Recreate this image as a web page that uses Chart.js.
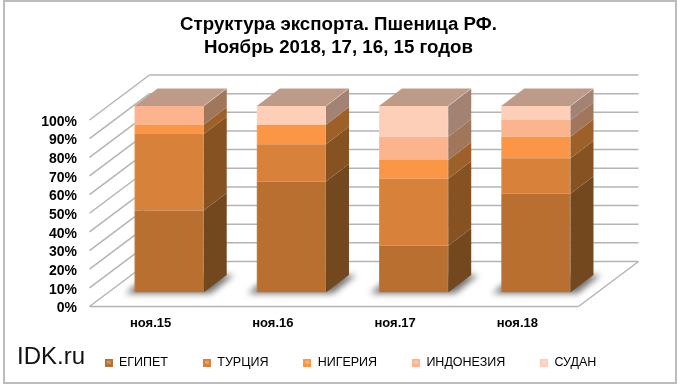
<!DOCTYPE html>
<html>
<head>
<meta charset="utf-8">
<title>Структура экспорта</title>
<style>
html, body { margin: 0; padding: 0; background: #fff; }
#frame { position: absolute; left: 3px; top: 0; width: 670px; height: 380px; border: 2px solid #bdbdbd; }
canvas { position: absolute; left: 0; top: 0; }
</style>
<script src="https://cdn.jsdelivr.net/npm/chart.js@4/dist/chart.umd.min.js"></script>
</head>
<body>
<canvas id="myChart" width="680" height="385"></canvas>
<div id="frame"></div>
<script>
const categories = ['ноя.15', 'ноя.16', 'ноя.17', 'ноя.18'];
const seriesNames = ['ЕГИПЕТ', 'ТУРЦИЯ', 'НИГЕРИЯ', 'ИНДОНЕЗИЯ', 'СУДАН'];
const egypt = [44, 59.5, 25, 53];
const turkey = [41, 20, 36, 19];
const nigeria = [5, 10.5, 10, 11.5];
const indonesia = [10, 0, 12.5, 9];
const sudan = [0, 10, 16.5, 7.5];
const seriesValues = [egypt, turkey, nigeria, indonesia, sudan];

const frontColors = ['#b86f30', '#d8813b', '#fa9645', '#fbb48d', '#fdceb8'];
const sideColors = ['#74481f', '#875222', '#9e6029', '#a1775c', '#a28373'];
const topColor = '#bd9b88';
const gridColor = '#b4b4b4';

// смещения 3D: глубина столбика и стенки диаграммы
const barDepth = { x: 23, y: -17.5 };
const floorFront = { x: -18.5, y: 14 };
const floorBack = { x: 41.5, y: -31 };

function poly(ctx, pts, fill) {
	ctx.beginPath();
	pts.forEach(function (p, i) {
		if (i === 0) ctx.moveTo(p[0], p[1]); else ctx.lineTo(p[0], p[1]);
	});
	ctx.closePath();
	ctx.fillStyle = fill;
	ctx.fill();
}

function line(ctx, x1, y1, x2, y2) {
	ctx.beginPath();
	ctx.moveTo(x1, y1);
	ctx.lineTo(x2, y2);
	ctx.stroke();
}

function legendMarker(color) {
	const c = document.createElement('canvas');
	c.width = 8;
	c.height = 8;
	const g = c.getContext('2d');
	g.fillStyle = color;
	g.fillRect(0, 0, 8, 8);
	g.fillStyle = 'rgba(255,255,255,0.28)';
	g.fillRect(2, 2, 4, 3);
	return c;
}

const walls3d = {
	id: 'walls3d',
	afterLayout: function (chart) {
		// заголовок и легенда стоят не по области столбиков
		const t = chart.titleBlock, l = chart.legend;
		t.left = 0; t.right = 677; t.width = 677;
		l.left = 21; l.right = 680; l.width = 659;
		l.top -= 9; l.bottom -= 9;
	},
	beforeDatasetsDraw: function (chart) {
		const ctx = chart.ctx, a = chart.chartArea, y = chart.scales.y;
		ctx.save();
		ctx.strokeStyle = gridColor;
		ctx.lineWidth = 1.5;
		y.ticks.forEach(function (t) {
			const py = y.getPixelForValue(t.value);
			line(ctx, a.left + floorFront.x, py + floorFront.y, a.left + floorBack.x, py + floorBack.y);
			line(ctx, a.left + floorBack.x, py + floorBack.y, a.right + floorBack.x, py + floorBack.y);
		});
		const b = y.getPixelForValue(0);
		line(ctx, a.left + floorFront.x, b + floorFront.y, a.right + floorFront.x, b + floorFront.y);
		line(ctx, a.right + floorFront.x, b + floorFront.y, a.right + floorBack.x, b + floorBack.y);
		// тени на полу
		ctx.filter = 'blur(3px)';
		chart.getDatasetMeta(0).data.forEach(function (bar) {
			const l = bar.x - bar.width / 2, r = bar.x + bar.width / 2;
			poly(ctx, [[l - 9, b + 1], [l + 14, b + barDepth.y], [r + barDepth.x + 7, b + barDepth.y], [r + 7, b + 1]], 'rgba(70,70,70,0.75)');
		});
		ctx.restore();
	},
	afterDatasetsDraw: function (chart) {
		const ctx = chart.ctx, d = barDepth;
		ctx.save();
		chart.data.datasets.forEach(function (ds, i) {
			chart.getDatasetMeta(i).data.forEach(function (bar) {
				if (Math.abs(bar.base - bar.y) < 0.01) return;
				const l = bar.x - bar.width / 2, r = bar.x + bar.width / 2;
				poly(ctx, [[r, bar.y], [r + d.x, bar.y + d.y], [r + d.x, bar.base + d.y], [r, bar.base]], sideColors[i]);
				ctx.fillStyle = 'rgba(255,255,255,0.10)';
				ctx.fillRect(l, bar.y, 1, bar.base - bar.y);
				ctx.fillRect(r - 1, bar.y, 1, bar.base - bar.y);
			});
		});
		const y = chart.scales.y, top = y.getPixelForValue(100);
		ctx.strokeStyle = 'rgba(255,255,255,0.3)';
		ctx.lineWidth = 1;
		chart.getDatasetMeta(0).data.forEach(function (bar) {
			const l = bar.x - bar.width / 2, r = bar.x + bar.width / 2;
			poly(ctx, [[l, top], [l + d.x, top + d.y], [r + d.x, top + d.y], [r, top]], topColor);
			line(ctx, r, top, r + d.x, top + d.y);
		});
		// подпись сайта
		ctx.fillStyle = '#111';
		ctx.font = '24px "Liberation Sans"';
		ctx.textBaseline = 'alphabetic';
		ctx.fillText('IDK.ru', 17, 364);
		ctx.restore();
	}
};

new Chart(document.getElementById('myChart'), {
	type: 'bar',
	data: {
		labels: categories,
		datasets: seriesNames.map(function (name, i) {
			return {
				label: name,
				data: seriesValues[i],
				backgroundColor: frontColors[i],
				borderWidth: 0,
				pointStyle: legendMarker(frontColors[i]),
				categoryPercentage: 1,
				barPercentage: 0.566
			};
		})
	},
	plugins: [walls3d],
	options: {
		responsive: false,
		animation: false,
		layout: { padding: { left: 0, right: 83, top: 0, bottom: -3 } },
		plugins: {
			tooltip: { enabled: false },
			title: {
				display: true,
				text: ['Структура экспорта. Пшеница РФ.', 'Ноябрь 2018, 17, 16, 15 годов'],
				color: '#000',
				font: { family: '"Liberation Sans"', size: 18.7, weight: 'bold', lineHeight: 1.2 },
				padding: { top: 14, bottom: 47.1 }
			},
			legend: {
				position: 'bottom',
				labels: {
					usePointStyle: true,
					boxWidth: 8,
					boxHeight: 8,
					padding: 35,
					color: '#000',
					font: { family: '"Liberation Sans"', size: 12.5 }
				}
			}
		},
		scales: {
			x: {
				stacked: true,
				grid: { display: false },
				border: { display: false },
				afterFit: function (s) { s.height = 38; },
				ticks: {
					autoSkip: false,
					maxRotation: 0,
					padding: 15,
					labelOffset: -18.5,
					color: '#000',
					font: { family: '"Liberation Sans"', size: 13, weight: 'bold' }
				}
			},
			y: {
				stacked: true,
				min: 0,
				max: 100,
				grid: { display: false },
				border: { display: false },
				afterFit: function (s) { s.width = 108; },
				ticks: {
					stepSize: 10,
					autoSkip: false,
					padding: 23,
					labelOffset: 16,
					color: '#000',
					font: { family: '"Liberation Sans"', size: 14, weight: 'bold' },
					callback: function (v) { return v + '%'; }
				}
			}
		}
	}
});
</script>
</body>
</html>
